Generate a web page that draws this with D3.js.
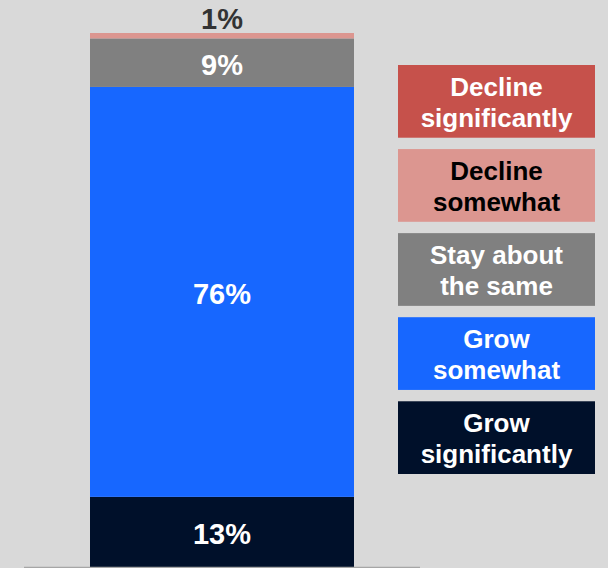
<!DOCTYPE html>
<html>
<head>
<meta charset="utf-8">
<script src="https://cdn.jsdelivr.net/npm/d3@7"></script>
<style>
  html, body { margin: 0; padding: 0; background: #d9d9d9; }
  svg { display: block; font-family: "Liberation Sans", Arial, sans-serif; font-weight: bold; }
</style>
</head>
<body>
<svg id="chart" width="608" height="568"></svg>
<script>
// stacked from the bottom up
var categories = ["Grow significantly", "Grow somewhat", "Stay about the same", "Decline somewhat", "Decline significantly"];
var values = [13, 76, 9, 1, 0];
var colors = ["#00102a", "#1767ff", "#808080", "#dc9690", "#c6514b"];
var legendLines = [["Grow", "significantly"], ["Grow", "somewhat"], ["Stay about", "the same"], ["Decline", "somewhat"], ["Decline", "significantly"]];
var legendText = ["#ffffff", "#ffffff", "#ffffff", "#000000", "#ffffff"];

var svg = d3.select("#chart");

var total = d3.sum(values);
var y = d3.scaleLinear().domain([0, total]).range([567, 33]);
var x = d3.scaleBand().domain(["all"]).range([24, 420]).paddingInner(0).paddingOuter(0.25);

// cumulative stack
var acc = 0;
var segs = values.map(function(v, i){
    var s = {i: i, v: v, y0: acc, y1: acc + v};
    acc += v;
    return s;
});

var bar = svg.append("g");
bar.selectAll("rect").data(segs.filter(function(d){ return d.v > 0; }))
    .enter().append("rect")
    .attr("x", x("all"))
    .attr("width", x.bandwidth())
    .attr("y", function(d){ return y(d.y1); })
    .attr("height", function(d){ return y(d.y0) - y(d.y1); })
    .attr("fill", function(d){ return colors[d.i]; });

// labels: inside for big segments, above for the tiny one
bar.selectAll("text").data(segs.filter(function(d){ return d.v > 0; }))
    .enter().append("text")
    .attr("x", x("all") + x.bandwidth()/2)
    .attr("y", function(d){
        if(d.v < 3){ return y(d.y1) - 4; }
        return (y(d.y0) + y(d.y1))/2 + 12;
    })
    .attr("text-anchor", "middle")
    .attr("font-size", 29)
    .attr("fill", function(d){ return d.v < 3 ? "#333333" : "#ffffff"; })
    .text(function(d){ return d.v + "%"; });

// baseline
svg.append("line")
    .attr("x1", 24).attr("x2", 420)
    .attr("y1", 567.5).attr("y2", 567.5)
    .attr("stroke", "#a6a6a6").attr("stroke-width", 1.5);

// legend boxes, top to bottom = reversed order
var order = d3.range(categories.length).reverse();
var ly = d3.scaleBand().domain(order).range([65, 474]).paddingInner(0.135);

var leg = svg.append("g").selectAll("g").data(order).enter().append("g");
leg.append("rect")
    .attr("x", 398).attr("width", 197)
    .attr("y", function(i){ return ly(i); })
    .attr("height", ly.bandwidth())
    .attr("fill", function(i){ return colors[i]; });
leg.append("text")
    .attr("text-anchor", "middle")
    .attr("font-size", 26)
    .attr("fill", function(i){ return legendText[i]; })
    .each(function(i){
        var t = d3.select(this);
        var cy = ly(i) + ly.bandwidth()/2;
        legendLines[i].forEach(function(s, k){
            t.append("tspan")
                .attr("x", 496.5)
                .attr("y", cy - 5.5 + k*31)
                .text(s);
        });
    });
</script>
</body>
</html>
